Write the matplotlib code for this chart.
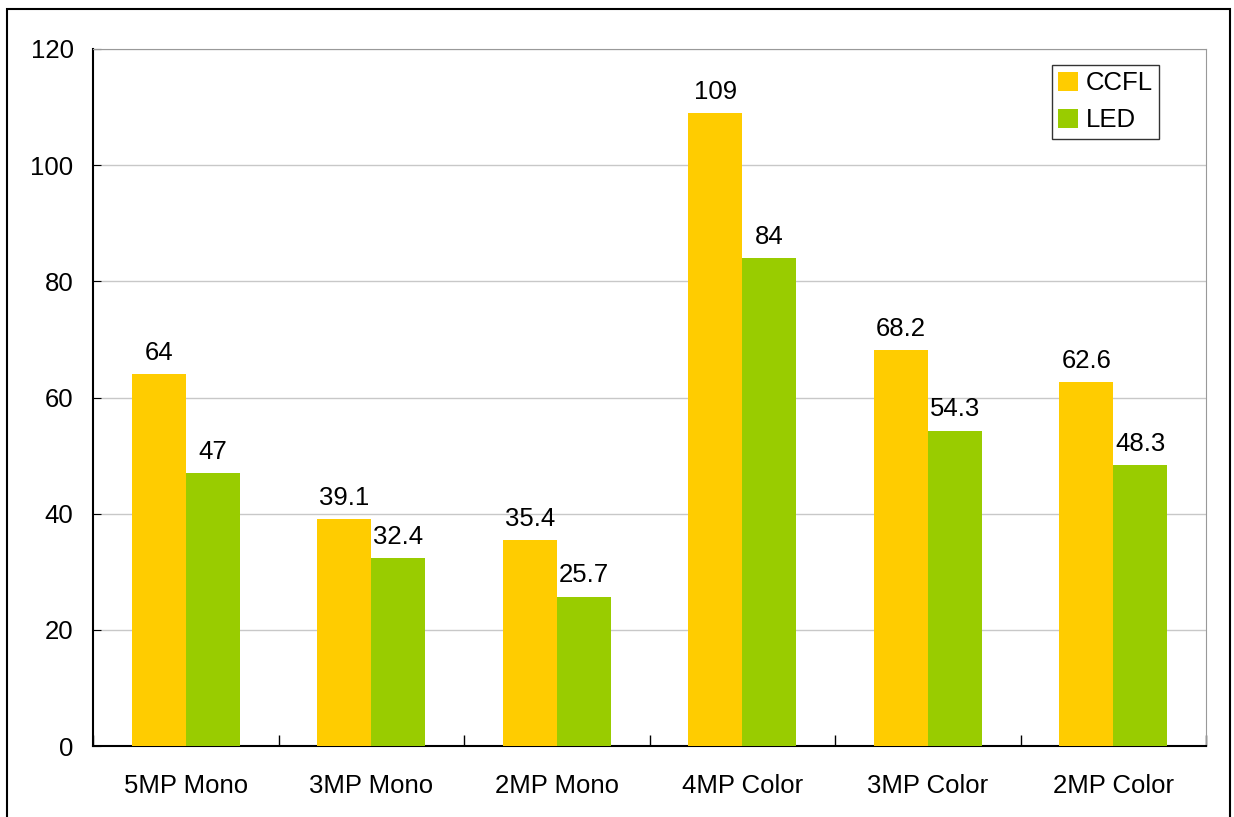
import matplotlib.pyplot as plt
import numpy as np
from matplotlib.patches import Rectangle

plt.rcParams['font.family'] = ['Liberation Sans', 'DejaVu Sans']

categories = ["5MP Mono", "3MP Mono", "2MP Mono", "4MP Color", "3MP Color", "2MP Color"]
ccfl = [64, 39.1, 35.4, 109, 68.2, 62.6]
led = [47, 32.4, 25.7, 84, 54.3, 48.3]
ccfl_labels = ["64", "39.1", "35.4", "109", "68.2", "62.6"]
led_labels = ["47", "32.4", "25.7", "84", "54.3", "48.3"]

fig = plt.figure(figsize=(12.34, 8.17), dpi=100)
ax = fig.add_axes([93 / 1234, 1 - 746 / 817, (1206 - 93) / 1234, (746 - 49) / 817])

# border around the whole chart (cut at the bottom like the original)
fig.patches.append(Rectangle((7 / 1234, -0.01), (1230 - 7) / 1234, 1 - 9 / 817 + 0.01,
                             transform=fig.transFigure, fill=False,
                             edgecolor='black', linewidth=1.5))

x = np.arange(len(categories))
w = 0.29
fs = 18.5
b1 = ax.bar(x - w / 2, ccfl, w, color='#FFCC00', label='CCFL', zorder=3)
b2 = ax.bar(x + w / 2, led, w, color='#99CC00', label='LED', zorder=3)

for bar, txt in zip(b1, ccfl_labels):
    ax.text(bar.get_x() + bar.get_width() / 2, bar.get_height() + 1.6, txt,
            ha='center', va='bottom', fontsize=fs)
for bar, txt in zip(b2, led_labels):
    ax.text(bar.get_x() + bar.get_width() / 2, bar.get_height() + 1.6, txt,
            ha='center', va='bottom', fontsize=fs)

ax.set_xlim(-0.5, len(categories) - 0.5)
ax.set_ylim(0, 120)
ax.set_yticks(range(0, 121, 20))
ax.yaxis.grid(True, color='#c8c8c8', linewidth=1, zorder=0)
ax.set_xticks(x)
ax.set_xticklabels(categories)
ax.set_xticks(np.arange(-0.5, len(categories), 1), minor=True)
ax.tick_params(axis='x', which='major', length=0, pad=20, labelsize=fs)
ax.tick_params(axis='x', which='minor', direction='in', length=8, width=1)
ax.tick_params(axis='y', direction='in', length=6, pad=14, labelsize=fs)

for side in ['top', 'right']:
    ax.spines[side].set_color('#999999')
for side in ['left', 'bottom']:
    ax.spines[side].set_color('black')
    ax.spines[side].set_linewidth(1.5)

leg = ax.legend(loc='upper right', fontsize=fs, frameon=True, fancybox=False,
                handlelength=0.75, handleheight=0.75, handletextpad=0.3, borderpad=0.25,
                labelspacing=0.5, borderaxespad=0)
leg.set_bbox_to_anchor((1159 / 1234, 1 - 65 / 817), transform=fig.transFigure)
leg.get_frame().set_edgecolor('black')
leg.get_frame().set_linewidth(1)

fig.savefig('out.png', dpi=100)
